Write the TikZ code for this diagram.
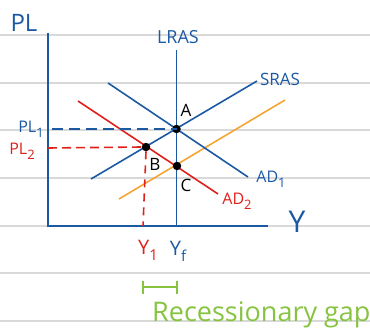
\documentclass[tikz,border=0pt]{standalone}
\usepackage{fontspec}
\setmainfont{Open Sans}
\definecolor{hblue}{HTML}{1B5AA3}
\definecolor{hred}{HTML}{E0201B}
\definecolor{horange}{HTML}{F5A533}
\definecolor{hgreen}{HTML}{86C440}
\definecolor{hgray}{HTML}{D9D9D9}
\newcommand\subx[2]{\raisebox{-0.3em}{\fontsize{#1}{#1}\selectfont #2}}
\begin{document}
\begin{tikzpicture}[x=1pt,y=-1pt,
  rule/.style={hgray,line width=1.6pt},
  axis/.style={hblue,line width=1.8pt},
  curve/.style={line width=1.6pt},
  dot/.style={circle,fill=black,inner sep=0pt,minimum size=8.5pt},
  lbl/.style={inner sep=0pt,font=\fontsize{17}{17}\selectfont},
  dashblue/.style={hblue,line width=1.6pt,dash pattern=on 11pt off 6pt},
  dashred/.style={hred,line width=1.6pt,dash pattern=on 9pt off 5pt}]
\useasboundingbox (0,0) rectangle (370,332);
\foreach \y in {35,83,130,178,226,273,321} \draw[rule] (0,\y) -- (370,\y);
% axes
\coordinate (ytop) at (48,33);
\coordinate (O) at (48,226);
\coordinate (xend) at (268,226);
\draw[axis] (ytop) -- (O) -- (xend);
% curves
\coordinate (lrasT) at (176.5,50);
\coordinate (lrasB) at (176.5,226);
\coordinate (ad1s) at (108,83);
\coordinate (ad1e) at (248,177);
\coordinate (srass) at (91,179);
\coordinate (srase) at (257,81);
\coordinate (ad2s) at (78,101);
\coordinate (ad2e) at (218,194);
\coordinate (sr2s) at (119,199);
\coordinate (sr2e) at (285,100);
\draw[curve,horange] (sr2s) -- (sr2e);
\draw[curve,hred] (ad2s) -- (ad2e);
\draw[curve,hblue] (ad1s) -- (ad1e);
\draw[curve,hblue] (srass) -- (srase);
\draw[axis] (lrasT) -- (lrasB);
% dashed guides
\coordinate (pl1s) at (52,129);
\coordinate (pl2s) at (48,148);
\coordinate (y1b) at (143,226);
\node[dot] (A) at (176.5,129) {};
\node[dot] (B) at (146,147) {};
\node[dot] (C) at (177,166) {};
\draw[dashblue] (pl1s) -- (A.center);
\draw[dashred] (pl2s) -- (B.west);
\draw[dashred,dash pattern=on 8pt off 6pt] (B.south) -- (y1b);
% labels
\node[lbl,hblue,font=\fontsize{24}{24}\selectfont] (PL) at (24,23) {PL};
\node[lbl,hblue,font=\fontsize{18}{18}\selectfont] (LRAS) at (178,37) {LRAS};
\node[lbl,hblue] (SRAS) at (280,79) {SRAS};
\node[lbl] (la) at (186,110) {A};
\node[lbl] (lb) at (155,164) {B};
\node[lbl] (lc) at (186,185) {C};
\node[lbl,hblue,font=\fontsize{16}{16}\selectfont] (PL1) at (31,129) {PL\subx{13}{1}};
\node[lbl,hred,font=\fontsize{16}{16}\selectfont] (PL2) at (22,151) {PL\subx{13}{2}};
\node[lbl,hblue,font=\fontsize{16}{16}\selectfont] (AD1) at (271,179) {AD\subx{13}{1}};
\node[lbl,hred,font=\fontsize{16}{16}\selectfont] (AD2) at (237,201) {AD\subx{13}{2}};
\node[lbl,hblue,font=\fontsize{30}{30}\selectfont] (Y) at (297,222) {Y};
\node[lbl,hred,font=\fontsize{20}{20}\selectfont] (Y1) at (148,250) {Y\subx{15}{1}};
\node[lbl,hblue,font=\fontsize{20}{20}\selectfont] (Yf) at (178,251) {Y\subx{15}{f}};
% gap bracket
\coordinate (g1) at (143,287);
\coordinate (g2) at (177,287);
\draw[hgreen,line width=1.6pt] (g1) -- (g2);
\draw[hgreen,line width=1.6pt] ([yshift=-6.5pt]g1) -- ([yshift=6.5pt]g1);
\draw[hgreen,line width=1.6pt] ([yshift=-6.5pt]g2) -- ([yshift=6.5pt]g2);
\node[inner sep=0pt,anchor=base west,hgreen,font=\fontsize{27}{27}\selectfont] (gap) at (152,321) {Recessionary gap};
\end{tikzpicture}
\end{document}
